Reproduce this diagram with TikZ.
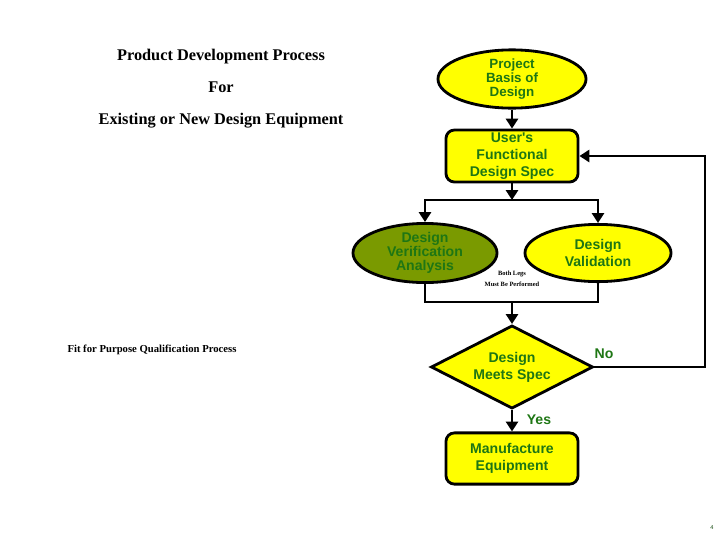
\documentclass[tikz,border=0pt]{standalone}
\usepackage{fontspec}
\usepackage{tikz}
\usetikzlibrary{shapes.geometric,arrows.meta,positioning}
\newfontfamily\titlefont{Liberation Serif}
\newfontfamily\boxfont{Liberation Sans}
\definecolor{textgreen}{RGB}{30,118,20}
\definecolor{olivefill}{RGB}{122,154,0}
\definecolor{boxyellow}{RGB}{255,255,0}
\tikzset
{
    ovalnode/.style = {ellipse, draw=black, line width=2pt, fill=boxyellow, align=center, inner sep=0pt, text=textgreen, font=\boxfont\bfseries\fontsize{9.5}{10.5}\selectfont},
    specbox/.style  = {rectangle, rounded corners=6pt, draw=black, line width=2pt, fill=boxyellow, align=center, inner sep=0pt, minimum width=3.3cm, text=textgreen, font=\boxfont\bfseries\fontsize{10}{12}\selectfont},
    decisionnode/.style = {diamond, aspect=2, draw=black, line width=2pt, fill=boxyellow, align=center, inner sep=0pt, minimum width=4.05cm, minimum height=2.08cm, text=textgreen, font=\boxfont\bfseries\fontsize{10}{12}\selectfont},
    link/.style = {line width=2pt, line join=miter, -{Triangle[length=7pt,width=8.5pt]}},
    joinline/.style = {line width=2pt, line join=miter},
    answer/.style = {text=textgreen, font=\boxfont\bfseries\fontsize{10}{12}\selectfont}
}
\begin{document}
\begin{tikzpicture}[x=0.025cm, y=-0.025cm]
	\useasboundingbox (0,0) rectangle (720,540);
	% titles
	\node[align=center, font=\titlefont\bfseries\fontsize{11.6}{22.7}\selectfont] (title) at (221,89)
		{Product Development Process\\For\\Existing or New Design Equipment};
	\node[font=\titlefont\bfseries\fontsize{7.6}{9}\selectfont] (fitlabel) at (152,350) {Fit for Purpose Qualification Process};
	% flow
	\node[ovalnode, minimum width=3.7cm, minimum height=1.45cm, font=\boxfont\bfseries\fontsize{9.5}{10.2}\selectfont] (basis) at (512,79) {Project\\Basis of\\Design};
	\node[specbox, minimum height=1.3cm] (userspec) at (512,156) {User's\\Functional\\Design Spec};
	\node[ovalnode, fill=olivefill, minimum width=3.6cm, minimum height=1.43cm, font=\boxfont\bfseries\fontsize{10}{10.2}\selectfont] (verify) at (425,253) {Design\\Verification\\Analysis};
	\node[ovalnode, minimum width=3.65cm, minimum height=1.43cm, font=\boxfont\bfseries\fontsize{10}{11.5}\selectfont] (validate) at (598,253) {Design\\Validation};
	\node[decisionnode] (meets) at (512,367) {Design\\Meets Spec};
	\node[specbox, minimum height=1.28cm] (manufacture) at (512,458.5) {Manufacture\\Equipment};
	\coordinate (split) at (512,200);
	\coordinate (merge) at (512,302);
	\coordinate (nocorner) at (705,367);
	\node[align=center, font=\titlefont\bfseries\fontsize{4.6}{7.5}\selectfont] (bothlegs) at (512,279) {Both Legs\\Must Be Performed};
	% connectors
	\draw[link] (basis) -- (userspec);
	\draw[link] (userspec) -- (split);
	\draw[link] (split) -| (verify);
	\draw[link] (split) -| (validate);
	\draw[joinline] (verify) |- (merge);
	\draw[joinline] (validate) |- (merge);
	\draw[link] (merge) -- (meets);
	\draw[link] (meets) -- (manufacture);
	\draw[link] (meets) -- (nocorner) |- (userspec);
	\node[answer] (nolabel) at (604,354) {No};
	\node[answer] (yeslabel) at (539,420) {Yes};
	\node[text=textgreen!60!black, font=\boxfont\fontsize{4}{5}\selectfont] (pagenum) at (712,528) {4};
\end{tikzpicture}
\end{document}
